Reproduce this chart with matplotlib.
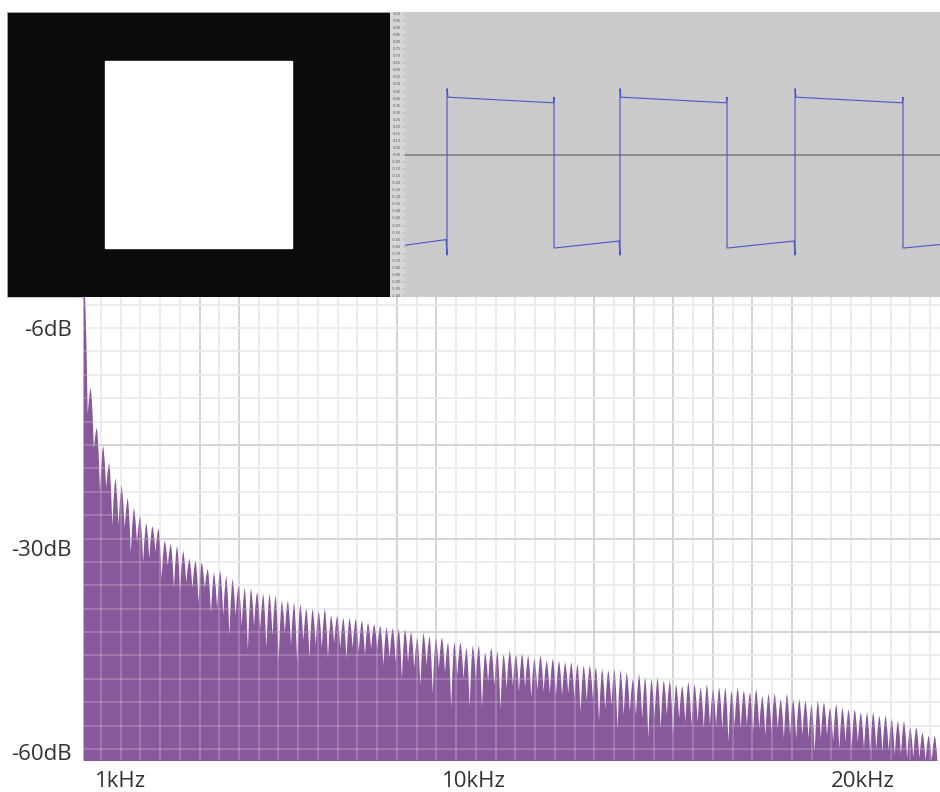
import numpy as np
import matplotlib
matplotlib.use("Agg")
import matplotlib.pyplot as plt
from matplotlib.patches import Rectangle

plt.rcParams['font.family'] = ['Open Sans', 'DejaVu Sans']

# spectrum of the square wave: odd harmonics (kHz) and peak levels (dB)
peak_khz = [0.078, 0.234, 0.390, 0.546, 0.702, 0.858, 1.014, 1.170, 1.326, 1.482,
            1.638, 1.794, 1.950, 2.106, 2.262, 2.418, 2.574, 2.730, 2.886, 3.042,
            3.198, 3.354, 3.510, 3.666, 3.822, 3.978, 4.134, 4.290, 4.446, 4.602,
            4.758, 4.914, 5.070, 5.226, 5.382, 5.538, 5.694, 5.850, 6.006, 6.162,
            6.318, 6.474, 6.630, 6.786, 6.942, 7.098, 7.254, 7.410, 7.566, 7.722,
            7.878, 8.034, 8.190, 8.346, 8.502, 8.658, 8.814, 8.970, 9.126, 9.282,
            9.438, 9.594, 9.750, 9.906, 10.062, 10.218, 10.374, 10.530, 10.686, 10.842,
            10.998, 11.154, 11.310, 11.466, 11.622, 11.778, 11.934, 12.090, 12.246, 12.402,
            12.558, 12.714, 12.870, 13.026, 13.182, 13.338, 13.494, 13.650, 13.806, 13.962,
            14.118, 14.274, 14.430, 14.586, 14.742, 14.898, 15.054, 15.210, 15.366, 15.522,
            15.678, 15.834, 15.990, 16.146, 16.302, 16.458, 16.614, 16.770, 16.926, 17.082,
            17.238, 17.394, 17.550, 17.706, 17.862, 18.018, 18.174, 18.330, 18.486, 18.642,
            18.798, 18.954, 19.110, 19.266, 19.422, 19.578, 19.734, 19.890, 20.046, 20.202,
            20.358, 20.514, 20.670, 20.826, 20.982, 21.138, 21.294, 21.450, 21.606]

peak_db = [-1.0,
           -13.6, -18.7, -21.0, -23.2, -25.2, -26.1, -27.7, -29.0, -30.0, -30.9,
           -31.3, -31.6, -33.2, -33.6, -33.8, -34.5, -35.5, -35.7, -36.0, -36.8,
           -37.3, -37.0, -37.7, -38.1, -38.9, -39.2, -39.3, -39.8, -40.0, -40.0,
           -40.2, -40.9, -40.9, -41.1, -41.3, -41.9, -41.9, -42.2, -41.9, -42.8,
           -42.8, -43.1, -43.1, -43.2,
           -43.4, -43.7, -43.9, -44.1, -44.3, -44.4, -44.5, -44.5, -44.9, -45.6,
           -45.0, -45.4, -45.7, -45.6, -46.2, -46.2, -46.2, -46.9, -46.6, -46.6,
           -47.5, -46.9, -47.3, -47.7, -47.3, -47.7, -47.7, -47.9, -48.3, -47.9,
           -48.6, -48.3, -48.6, -48.8, -48.8, -49.0, -49.2, -49.2, -49.4, -49.6,
           -49.8, -49.6, -49.8, -50.1, -50.9, -50.3, -50.7,
           -50.9, -50.7, -51.1, -51.1, -51.6, -51.8, -51.3, -51.6, -52.0, -51.6,
           -52.2, -52.0, -52.0, -52.4, -52.0, -52.4, -52.6, -52.2, -53.1, -52.8,
           -52.8, -53.5, -52.8, -53.5, -53.5, -53.7, -54.1, -53.7, -53.9, -54.6,
           -54.1, -54.6, -54.8, -54.8, -55.2, -55.2, -55.2, -55.6, -55.6, -56.0,
           -56.3, -56.3, -57.1, -57.1, -57.8, -58.2, -58.2]

# valley between peak i and peak i+1 (dB)
notch_db = [-17.0, -21.4, -27.0, -26.4, -31.3, -31.3, -31.6, -34.8, -33.4, -36.0,
            -35.5, -34.7, -38.0, -36.4, -39.3, -39.6, -38.6, -39.3, -41.1, -39.3,
            -42.5, -41.9, -42.8, -45.4, -42.8, -44.1, -47.3, -44.1, -44.5, -47.0,
            -45.4, -48.6, -45.0, -46.6, -48.8, -46.0, -48.2, -46.6, -47.0, -48.2,
            -46.3, -47.0, -48.3, -47.0,
            -47.5, -47.9, -47.1, -47.1, -49.2, -48.3, -48.8, -50.9, -48.8, -49.6,
            -51.8, -49.2, -52.8, -49.6, -50.1, -54.6, -50.5, -50.9, -54.6, -50.9,
            -54.6, -51.3, -51.8, -54.8, -52.2, -51.8, -52.6, -52.0, -53.3, -52.4,
            -52.6, -52.8, -53.1, -53.1, -52.8, -53.5, -55.2, -53.7, -53.5, -56.3,
            -54.8, -54.3, -57.3, -55.6, -55.2, -55.6, -56.0, -58.6,
            -56.0, -57.3, -55.6, -58.2, -56.0, -56.5, -56.9, -56.5, -57.3, -56.9,
            -56.9, -57.3, -59.0, -56.9, -57.3, -56.9, -57.8, -57.3, -58.2, -57.8,
            -57.3, -58.6, -58.2, -58.6, -58.2, -58.6, -60.3, -58.6, -58.2, -59.0,
            -59.9, -59.0, -59.9, -59.0, -59.9, -60.3, -59.9, -60.3, -60.1, -60.7,
            -60.7, -61.1, -61.0, -61.1, -61.4, -61.4]

# captured waveform (time in ms, amplitude)
wave_t_ms = [0.0, 3.02, 3.09, 3.09, 3.16, 10.90, 10.96, 10.96, 15.74, 15.81, 15.81,
             15.88, 23.62, 23.68, 23.68, 28.61, 28.68, 28.68, 28.75, 36.56, 36.62,
             36.62, 39.34]
wave_amp = [-0.64, -0.60, -0.71, 0.47, 0.41, 0.37, 0.41, -0.66, -0.61, -0.71, 0.47,
            0.41, 0.37, 0.41, -0.66, -0.61, -0.71, 0.47, 0.41, 0.37, 0.41,
            -0.66, -0.635]

db_labels = ['-6dB', '-30dB', '-60dB']
db_label_pos = [-6.0, -34.2, -60.4]
khz_labels = ['1kHz', '10kHz', '20kHz']
khz_label_pos = [1.0, 9.95, 19.8]

W, H = 940, 792
fig = plt.figure(figsize=(W / 100, H / 100), dpi=100)
fig.patch.set_facecolor('white')


def box(x0, y0, x1, y1):
    return [x0 / W, 1 - y1 / H, (x1 - x0) / W, (y1 - y0) / H]


# black test pattern with the white square
ax_img = fig.add_axes(box(7, 12, 390, 297))
ax_img.set_facecolor('#0b0b0b')
ax_img.add_patch(Rectangle((98 / 383, 49 / 285), 187 / 383, 187 / 285,
                           transform=ax_img.transAxes, color='white'))
ax_img.set_xticks([])
ax_img.set_yticks([])
for s in ax_img.spines.values():
    s.set_color('#bbbbbb')
    s.set_linewidth(0.6)

# waveform ruler
ax_r = fig.add_axes(box(390, 12, 405, 297))
ax_r.set_facecolor('#d4d6d8')
ax_r.set_xlim(0, 1)
ax_r.set_ylim(-1.007, 1.014)
for v in np.linspace(1.0, -1.0, 41):
    ax_r.text(0.45, v, '%.2f' % v, fontsize=2.6, color='#555555',
              ha='center', va='center', family='DejaVu Sans')
    ax_r.plot([0.85, 1.0], [v, v], color='#777777', lw=0.3)
ax_r.set_xticks([])
ax_r.set_yticks([])
for s in ax_r.spines.values():
    s.set_visible(False)

# waveform
ax_w = fig.add_axes(box(405, 12, 940, 297))
ax_w.set_facecolor('#cbcbcb')
ax_w.axhline(0, color='#858585', lw=1.3, zorder=1)
ax_w.plot(wave_t_ms, wave_amp, color='#4b55c8', lw=0.8, zorder=2)
ax_w.set_xlim(0, 39.34)
ax_w.set_ylim(-1.007, 1.014)
ax_w.set_xticks([])
ax_w.set_yticks([])
for s in ax_w.spines.values():
    s.set_visible(False)

# spectrum
ax_s = fig.add_axes(box(83, 297, 940, 760))
x_left, x_right = 0.05, 21.75
y_bot, y_top = -61.4, -2.03

xs, ys = [x_left], [peak_db[0]]
n = len(peak_khz)
for i in range(n):
    f, p = peak_khz[i], peak_db[i]
    d = peak_khz[1] - peak_khz[0]
    if i > 0:
        q = notch_db[i - 1]
        xs += [f - 0.3 * d, f - 0.12 * d]
        ys += [p - 0.45 * (p - q), p - 0.12 * (p - q)]
    xs.append(f)
    ys.append(p)
    q = notch_db[i] if i < n - 1 else y_bot - 1
    xs += [f + 0.12 * d, f + 0.3 * d, f + 0.5 * d]
    ys += [p - 0.12 * (p - q), p - 0.45 * (p - q), q]
xs.append(x_right)
ys.append(y_bot - 1)

ax_s.fill_between(xs, ys, y_bot - 5, color='#87589a', lw=0, zorder=2)

dark_khz = [3, 4, 8, 9, 13, 14, 15, 16, 17, 18]
for f in np.arange(0.5, 22.0, 0.5):
    c = '#bdbdbd' if f in dark_khz else '#e2e2e2'
    ax_s.axvline(f, color=c, lw=1.1, zorder=1)
    ax_s.axvline(f, color='white', alpha=0.25, lw=1.1, zorder=3)
dark_db = [-21, -33, -45]
for v in np.arange(-3, -61, -3):
    c = '#bdbdbd' if v in dark_db else '#e2e2e2'
    ax_s.axhline(v, color=c, lw=1.1, zorder=1)
    ax_s.axhline(v, color='white', alpha=0.25, lw=1.1, zorder=3)

ax_s.set_xlim(x_left, x_right)
ax_s.set_ylim(y_bot, y_top)
ax_s.set_yticks(db_label_pos, db_labels)
ax_s.set_xticks(khz_label_pos, khz_labels)
ax_s.tick_params(length=0, pad=8, labelsize=16, labelcolor='#333333')
for s in ax_s.spines.values():
    s.set_visible(False)

fig.savefig('out.png', dpi=100)
